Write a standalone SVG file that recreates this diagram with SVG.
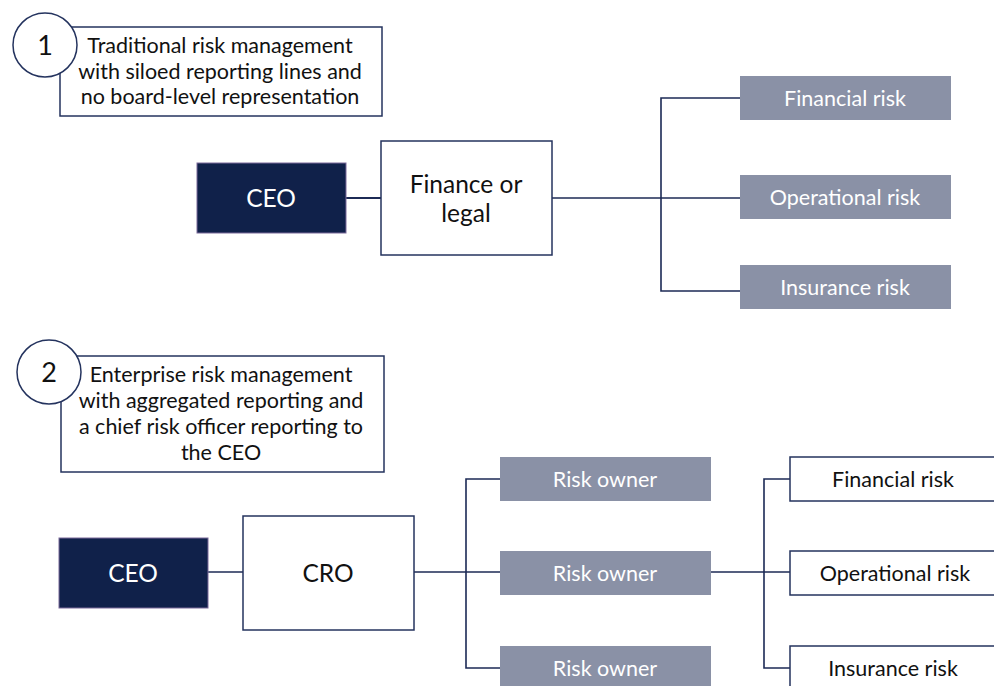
<svg xmlns="http://www.w3.org/2000/svg" width="994" height="686" viewBox="0 0 994 686">
<style>
text{font-family:Lato,"Open Sans","Liberation Sans",sans-serif;text-anchor:middle;}
.desc{fill:#fff;stroke:#24335e;stroke-width:1.5;}
.circ{fill:#fff;stroke:#24335e;stroke-width:1.5;}
.ceo{fill:#10214a;stroke:#7b6a9a;stroke-width:1;}
.wbox{fill:#fff;stroke:#24335e;stroke-width:1.5;}
.gbox{fill:#8a91a6;}
.t{font-size:21.5px;fill:#111;}
.num{font-size:27px;fill:#111;}
.wt{font-size:24.5px;fill:#fff;}
.bt{font-size:24.5px;fill:#111;}
.gt{font-size:21.5px;fill:#fff;}
.st{font-size:21.5px;fill:#111;}
.con{fill:none;stroke:#1c2a55;stroke-width:1.6;}
</style>
<rect width="994" height="686" fill="#fff"/>
<g id="connectors">
<line class="con" x1="346" y1="198" x2="381" y2="198" style="stroke-width:2.2"/>
<line class="con" x1="552" y1="198" x2="740" y2="198"/>
<path class="con" d="M740 98 H661 V291 H740"/>
<line class="con" x1="208" y1="572" x2="243" y2="572"/>
<line class="con" x1="414" y1="572" x2="500" y2="572"/>
<path class="con" d="M500 479 H466 V668 H500"/>
<line class="con" x1="711" y1="572" x2="790" y2="572"/>
<path class="con" d="M790 479 H764 V668 H790"/>
</g>
<g id="desc1">
<rect class="desc" x="60" y="27" width="322" height="89"/>
<text class="t" x="220" y="53">Traditional risk management</text>
<text class="t" x="220" y="79">with siloed reporting lines and</text>
<text class="t" x="220" y="104">no board-level representation</text>
</g>
<g id="num1">
<circle class="circ" cx="45" cy="45" r="32"/>
<text class="num" x="45" y="55">1</text>
</g>
<g id="ceo1">
<rect class="ceo" x="197" y="163" width="149" height="70"/>
<text class="wt" x="271" y="207">CEO</text>
</g>
<g id="finance">
<rect class="wbox" x="381" y="141" width="171" height="114"/>
<text class="bt" x="466" y="193">Finance or</text>
<text class="bt" x="466" y="222">legal</text>
</g>
<g id="fin1">
<rect class="gbox" x="740" y="76" width="211" height="44"/>
<text class="gt" x="845" y="106">Financial risk</text>
</g>
<g id="op1">
<rect class="gbox" x="740" y="175" width="211" height="44"/>
<text class="gt" x="845" y="205">Operational risk</text>
</g>
<g id="ins1">
<rect class="gbox" x="740" y="265" width="211" height="44"/>
<text class="gt" x="845" y="295">Insurance risk</text>
</g>
<g id="desc2">
<rect class="desc" x="61" y="356" width="323" height="116"/>
<text class="t" x="221" y="382">Enterprise risk management</text>
<text class="t" x="221" y="408">with aggregated reporting and</text>
<text class="t" x="221" y="434">a chief risk officer reporting to</text>
<text class="t" x="221" y="460">the CEO</text>
</g>
<g id="num2">
<circle class="circ" cx="49" cy="372" r="32"/>
<text class="num" x="49" y="382">2</text>
</g>
<g id="ceo2">
<rect class="ceo" x="59" y="538" width="149" height="70"/>
<text class="wt" x="133" y="582">CEO</text>
</g>
<g id="cro">
<rect class="wbox" x="243" y="516" width="171" height="114"/>
<text class="bt" x="328" y="582">CRO</text>
</g>
<g id="ro1">
<rect class="gbox" x="500" y="457" width="211" height="44"/>
<text class="gt" x="605" y="487">Risk owner</text>
</g>
<g id="ro2">
<rect class="gbox" x="500" y="551" width="211" height="44"/>
<text class="gt" x="605" y="581">Risk owner</text>
</g>
<g id="ro3">
<rect class="gbox" x="500" y="646" width="211" height="44"/>
<text class="gt" x="605" y="676">Risk owner</text>
</g>
<g id="fin2">
<rect class="wbox" x="790" y="457" width="220" height="44"/>
<text class="st" x="893" y="487">Financial risk</text>
</g>
<g id="op2">
<rect class="wbox" x="790" y="551" width="220" height="44"/>
<text class="st" x="895" y="581">Operational risk</text>
</g>
<g id="ins2">
<rect class="wbox" x="790" y="646" width="220" height="50"/>
<text class="st" x="893" y="676">Insurance risk</text>
</g>
</svg>
